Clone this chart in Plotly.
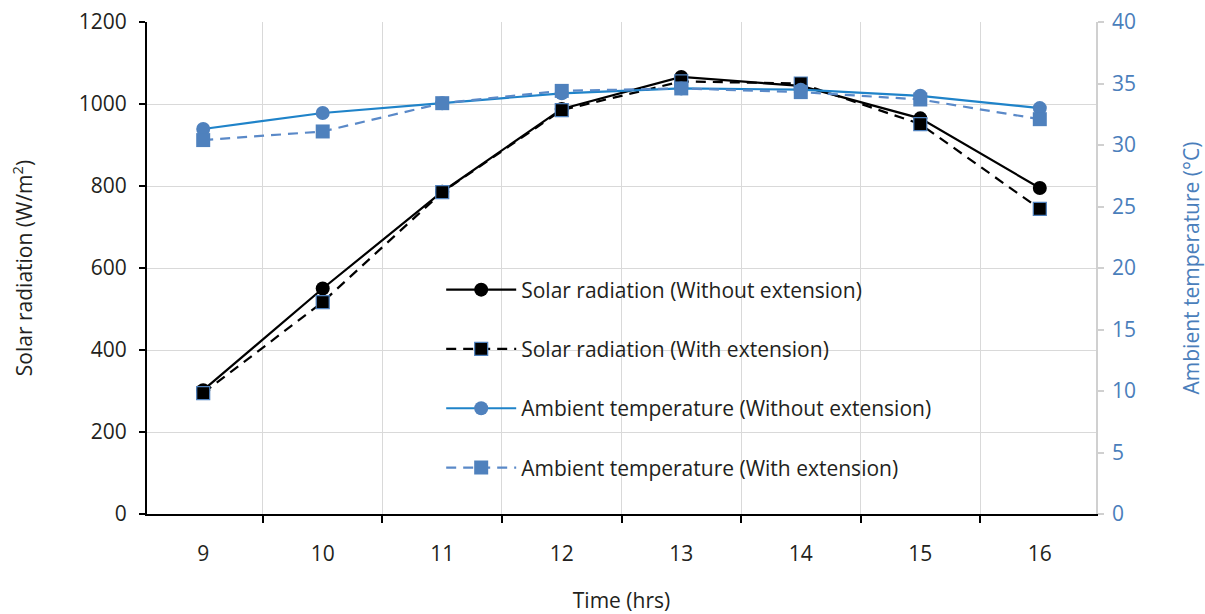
import plotly.graph_objects as go

hours = ["9", "10", "11", "12", "13", "14", "15", "16"]
solar_without = [302, 550, 786, 988, 1066, 1044, 965, 795]
solar_with = [295, 517, 785, 985, 1055, 1050, 951, 744]
temp_without = [31.3, 32.6, 33.4, 34.2, 34.6, 34.5, 34.0, 33.0]
temp_with = [30.4, 31.1, 33.4, 34.4, 34.6, 34.3, 33.7, 32.1]

FONT = "Open Sans"
TXT = "#231f20"
BLUE_TXT = "#4a7ebb"
FS = 21

fig = go.Figure()
fig.add_trace(go.Scatter(
    x=hours, y=solar_without, name="Solar radiation (Without extension)",
    mode="lines+markers", legendgroup="a",
    line=dict(color="black", width=2.2),
    marker=dict(symbol="circle", size=14, color="black"),
))
fig.add_trace(go.Scatter(
    x=hours, y=solar_with, name="Solar radiation (With extension)",
    mode="lines+markers", legendgroup="b",
    line=dict(color="black", width=2.2, dash="10px,7px"),
    marker=dict(symbol="square", size=13, color="black",
                line=dict(color="#4f81bd", width=1.2)),
))
fig.add_trace(go.Scatter(
    x=hours, y=temp_without, name="Ambient temperature (Without extension)",
    mode="lines+markers", legendgroup="c", yaxis="y2",
    line=dict(color="#1f83c9", width=2.2),
    marker=dict(symbol="circle", size=14, color="#4f81bd"),
))
fig.add_trace(go.Scatter(
    x=hours, y=temp_with, name="Ambient temperature (With extension)",
    mode="lines+markers", legendgroup="d", yaxis="y2",
    line=dict(color="#5a89c8", width=2.2, dash="10px,7px"),
    marker=dict(symbol="square", size=14, color="#4f81bd"),
))

fig.update_layout(
    width=1205, height=614,
    margin=dict(l=147, r=109, t=22, b=100),
    paper_bgcolor="white", plot_bgcolor="white",
    font=dict(family=FONT, size=FS, color=TXT),
    showlegend=True,
    legend=dict(
        x=0.31, y=0.497, xanchor="left", yanchor="top",
        bgcolor="rgba(0,0,0,0)", tracegroupgap=29, itemwidth=70,
        font=dict(family=FONT, size=FS, color=TXT),
    ),
    xaxis=dict(
        type="category", tickson="boundaries", automargin=False,
        showgrid=True, gridcolor="#d9d9d9", gridwidth=1.2,
        showline=True, linecolor="black", linewidth=2.2,
        ticks="outside", ticklen=7, tickwidth=2, tickcolor="black",
        ticklabelstandoff=20,
        tickfont=dict(family=FONT, size=FS, color=TXT),
        title=dict(text="Time (hrs)", standoff=30,
                   font=dict(family=FONT, size=FS, color=TXT)),
        zeroline=False,
    ),
    yaxis=dict(
        range=[0, 1200], dtick=200, automargin=False,
        showgrid=True, gridcolor="#d9d9d9", gridwidth=1.2,
        showline=True, linecolor="black", linewidth=2.2,
        ticks="outside", ticklen=6, tickwidth=2, tickcolor="black",
        ticklabelstandoff=8,
        tickfont=dict(family=FONT, size=FS, color=TXT),
        title=dict(text="Solar radiation (W/m<sup>2</sup>)", standoff=40,
                   font=dict(family=FONT, size=FS, color=TXT)),
        zeroline=False,
    ),
    yaxis2=dict(
        range=[0, 40], dtick=5, overlaying="y", side="right", automargin=False,
        showgrid=False,
        showline=True, linecolor="#d0d0d0", linewidth=1.5,
        ticks="outside", ticklen=6, tickwidth=1.5, tickcolor="#d0d0d0",
        ticklabelstandoff=4,
        tickfont=dict(family=FONT, size=FS, color=BLUE_TXT),
        title=dict(text="Ambient temperature (°C)", standoff=50,
                   font=dict(family=FONT, size=FS, color=BLUE_TXT)),
        zeroline=False,
    ),
)

fig.write_html("out.html")
